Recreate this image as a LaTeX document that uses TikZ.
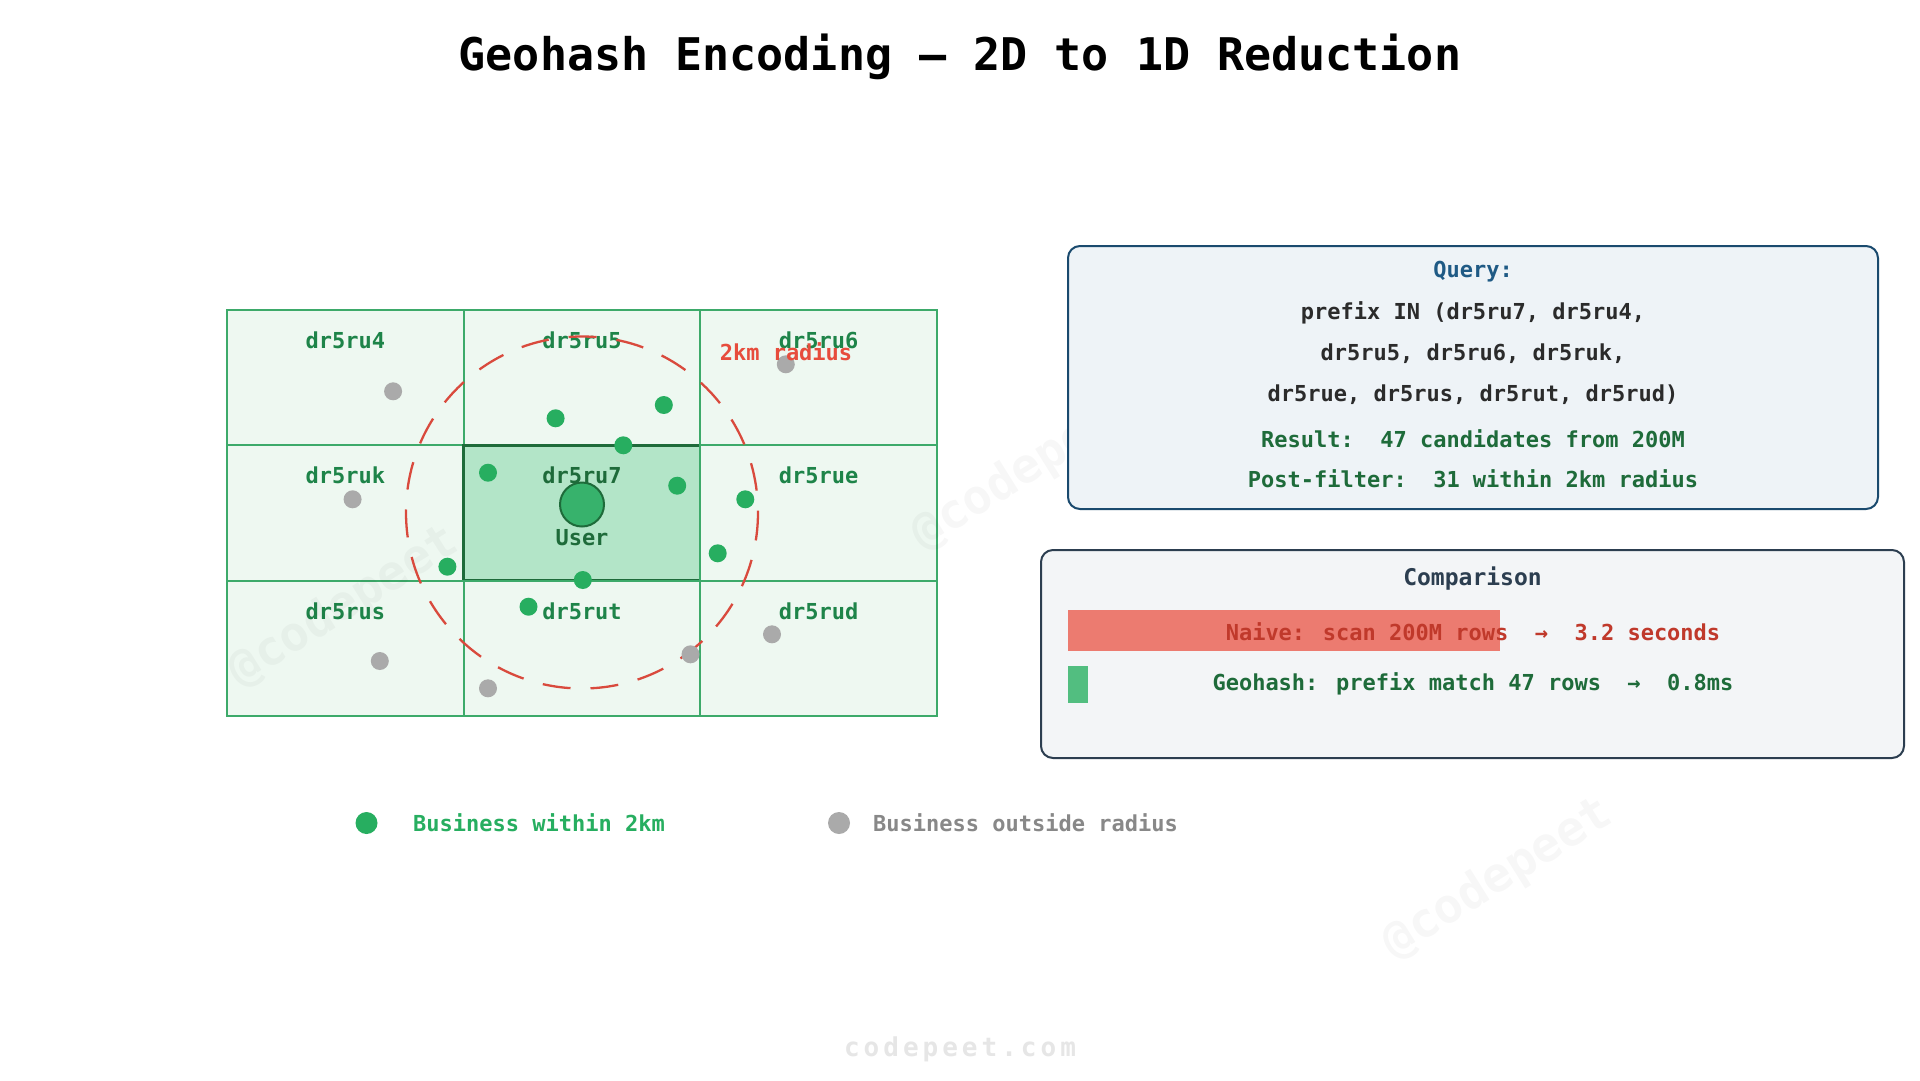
\documentclass[tikz,border=0pt]{standalone}
\usepackage{fontspec}
\setmainfont{DejaVu Sans Mono}
\definecolor{cellfill}{HTML}{EEF8F1}
\definecolor{cellline}{HTML}{3DAA6A}
\definecolor{midfill}{HTML}{B3E5C8}
\definecolor{darkgreen}{HTML}{1E6B3A}
\definecolor{labgreen}{HTML}{1E8449}
\definecolor{dotgreen}{HTML}{27AE60}
\definecolor{dotgray}{HTML}{AAAAAA}
\definecolor{userfill}{HTML}{37B26C}
\definecolor{radred}{HTML}{D94A3D}
\definecolor{radtext}{HTML}{E74C3C}
\definecolor{qfill}{HTML}{EEF3F7}
\definecolor{qline}{HTML}{1A4A6E}
\definecolor{qtitle}{HTML}{1F5A85}
\definecolor{qtext}{HTML}{2B2B2B}
\definecolor{cfill}{HTML}{F3F5F7}
\definecolor{cline}{HTML}{2C3E50}
\definecolor{redbar}{HTML}{EC7B70}
\definecolor{redtext}{HTML}{C0392B}
\definecolor{greenbar}{HTML}{52BE80}
\definecolor{graytext}{HTML}{888888}
\definecolor{footc}{HTML}{E6E6E6}
\tikzset{
  fs/.style={font=\bfseries\fontsize{#1}{#1}\selectfont},
  cell/.style={draw=cellline, fill=cellfill, line width=2pt, rectangle, inner sep=0, outer sep=0, minimum width=236.67pt, minimum height=135.33pt},
  midcell/.style={cell, draw=darkgreen, fill=midfill, line width=2.6pt},
  celllab/.style={fs=22, text=labgreen, inner sep=0},
  gdot/.style={circle, fill=dotgreen, minimum size=18pt, inner sep=0},
  ydot/.style={circle, fill=dotgray, minimum size=18pt, inner sep=0},
  wmark/.style={fs=48, text=black, opacity=0.03, rotate=32},
  qline/.style={fs=22, inner sep=0}
}
\begin{document}
\begin{tikzpicture}[x=1pt,y=-1pt]
\path[use as bounding box, fill=white] (0,0) rectangle (1920,1080);

% title
\node[fs=45] (title) at (960,57) {Geohash Encoding — 2D to 1D Reduction};

% grid cells
\node[cell] (c4) at (345.33,377.67) {};
\node[cell] (c5) at (582,377.67) {};
\node[cell] (c6) at (818.67,377.67) {};
\node[cell] (ck) at (345.33,513) {};
\node[midcell] (c7) at (582,513) {};
\node[cell] (ce) at (818.67,513) {};
\node[cell] (cs) at (345.33,648.33) {};
\node[cell] (ct) at (582,648.33) {};
\node[cell] (cd) at (818.67,648.33) {};

\node[celllab] (l4) at ([yshift=37.5pt]c4.center) {dr5ru4};
\node[celllab] (l5) at ([yshift=37.5pt]c5.center) {dr5ru5};
\node[celllab] (l6) at ([yshift=37.5pt]c6.center) {dr5ru6};
\node[celllab] (lk) at ([yshift=37.5pt]ck.center) {dr5ruk};
\node[celllab, text=darkgreen] (l7) at ([yshift=37.5pt]c7.center) {dr5ru7};
\node[celllab] (le) at ([yshift=37.5pt]ce.center) {dr5rue};
\node[celllab] (ls) at ([yshift=37.5pt]cs.center) {dr5rus};
\node[celllab] (lt) at ([yshift=37.5pt]ct.center) {dr5rut};
\node[celllab] (ld) at ([yshift=37.5pt]cd.center) {dr5rud};

% watermarks
\node[wmark] (w1) at (1027,470) {@codepeet};
\node[wmark] (w2) at (1498,879) {@codepeet};
\node[wmark] (w3) at (344,607) {@codepeet};

% radius circle
\draw[radred, line width=2.3pt, dash pattern=on 28pt off 20pt] (582,512.5) circle[radius=176];

% businesses
\node[gdot] (g1) at (555.6,418.3) {};
\node[gdot] (g2) at (663.8,405) {};
\node[gdot] (g3) at (623.3,445.3) {};
\node[gdot] (g4) at (488,472.7) {};
\node[gdot] (g5) at (677.2,485.7) {};
\node[gdot] (g6) at (745.3,499.3) {};
\node[gdot] (g7) at (717.7,553.3) {};
\node[gdot] (g8) at (447.4,566.7) {};
\node[gdot] (g9) at (582.8,580) {};
\node[gdot] (g10) at (528.5,606.7) {};
\node[ydot] (y1) at (393.1,391.3) {};
\node[ydot] (y2) at (352.6,499.3) {};
\node[ydot] (y3) at (785.8,364.3) {};
\node[ydot] (y4) at (772,634.3) {};
\node[ydot] (y5) at (690.5,654.3) {};
\node[ydot] (y6) at (379.8,661) {};
\node[ydot] (y7) at (488,688.3) {};

\node[fs=22, text=radtext, inner sep=0] (radlab) at (786,352) {2km radius};

% user
\node[circle, fill=userfill, draw=darkgreen, line width=2pt, minimum size=44pt, inner sep=0] (user) at (582,504.5) {};
\node[fs=22, text=darkgreen, inner sep=0] (userlab) at (582,538) {User};

% query box
\node[draw=qline, fill=qfill, line width=2pt, rounded corners=12pt, minimum width=810pt, minimum height=263pt, inner sep=0] (qbox) at (1473,377.5) {};
\node[qline, text=qtitle] (q1) at (1473,271.5) {Query:};
\node[qline, text=qtext] (q2) at (1473,313) {prefix IN (dr5ru7, dr5ru4,};
\node[qline, text=qtext] (q3) at (1473,354) {dr5ru5, dr5ru6, dr5ruk,};
\node[qline, text=qtext] (q4) at (1473,395) {dr5rue, dr5rus, dr5rut, dr5rud)};
\node[qline, text=darkgreen] (q5) at (1473,438.5) {Result:\ \ 47 candidates from 200M};
\node[qline, text=darkgreen] (q6) at (1473,479) {Post-filter:\ \ 31 within 2km radius};

% comparison box
\node[draw=cline, fill=cfill, line width=2pt, rounded corners=12pt, minimum width=863pt, minimum height=208pt, inner sep=0] (cbox) at (1472.5,654) {};
\node[fs=23, inner sep=0, text=cline] (ctitle) at (1472.5,579) {Comparison};
\node[fill=redbar, minimum width=432pt, minimum height=41pt, inner sep=0, anchor=north west] (rbar) at (1068,610) {};
\node[fill=greenbar, minimum width=20pt, minimum height=37pt, inner sep=0, anchor=north west] (gbar) at (1068,666) {};
\node[qline, text=redtext] (naive) at (1473,632) {Naive: scan 200M rows\ \ →\ \ 3.2 seconds};
\node[qline, text=darkgreen] (geo) at (1473,684) {Geohash: prefix match 47 rows\ \ →\ \ 0.8ms};

% legend
\node[circle, fill=dotgreen, minimum size=22pt, inner sep=0] (lgd1) at (366.5,823) {};
\node[fs=22, text=dotgreen, anchor=west, inner sep=0] (lgt1) at (413,823) {Business within 2km};
\node[circle, fill=dotgray, minimum size=22pt, inner sep=0] (lgd2) at (839,823) {};
\node[fs=22, text=graytext, anchor=west, inner sep=0] (lgt2) at (873,823) {Business outside radius};

% footer
\node[fs=26, text=footc] (foot) at (960,1049) {c\kern4pt o\kern4pt d\kern4pt e\kern4pt p\kern4pt e\kern4pt e\kern4pt t\kern4pt .\kern4pt c\kern4pt o\kern4pt m};
\end{tikzpicture}
\end{document}
